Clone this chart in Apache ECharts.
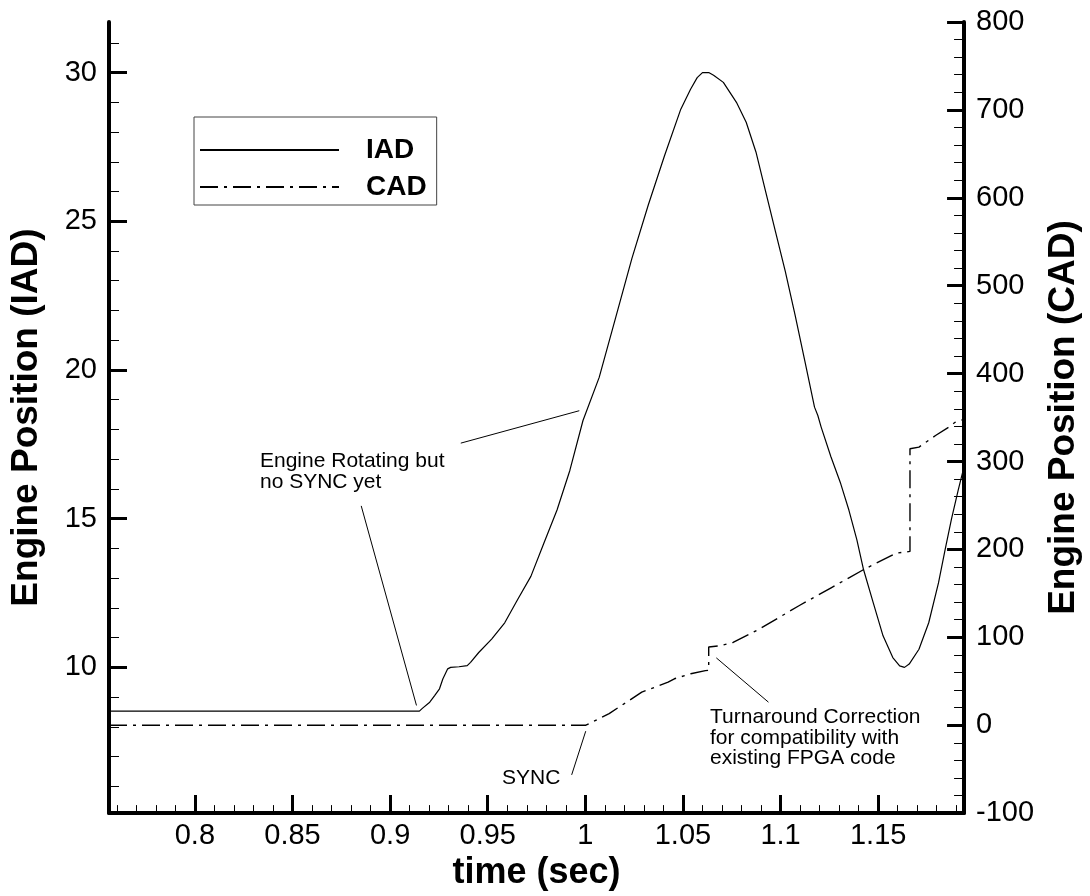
<!DOCTYPE html>
<html>
<head>
<meta charset="utf-8">
<script src="https://cdn.jsdelivr.net/npm/echarts@6/dist/echarts.min.js"></script>
<style>
  html, body { margin: 0; padding: 0; background: #fff; }
  #chart { width: 1090px; height: 896px; }
</style>
</head>
<body>
<div id="chart"></div>
<script>
// Time axis ticks (sec)
const timeTicks = [0.8, 0.85, 0.9, 0.95, 1, 1.05, 1.1, 1.15];
const timeMinorTicks = [0.76, 0.77, 0.78, 0.79, 0.81, 0.82, 0.83, 0.84, 0.86, 0.87, 0.88, 0.89,
  0.91, 0.92, 0.93, 0.94, 0.96, 0.97, 0.98, 0.99, 1.01, 1.02, 1.03, 1.04, 1.06, 1.07, 1.08, 1.09,
  1.11, 1.12, 1.13, 1.14, 1.16, 1.17, 1.18, 1.19];

// Engine position (IAD) ticks
const iadTicks = [10, 15, 20, 25, 30];
const iadMinorTicks = [6, 7, 8, 9, 11, 12, 13, 14, 16, 17, 18, 19, 21, 22, 23, 24, 26, 27, 28, 29, 31];

// IAD trace
const iadTime = [0.756, 0.915, 0.9165, 0.9203, 0.9228, 0.9253, 0.927, 0.9295, 0.931, 0.9353, 0.9395,
  0.9412, 0.9454, 0.952, 0.9587, 0.9654, 0.9721, 0.9788, 0.9855, 0.9921, 0.9988, 1.0071, 1.0155,
  1.0239, 1.0322, 1.0406, 1.0489, 1.0539, 1.0573, 1.0600, 1.0632, 1.0657, 1.0707, 1.0774, 1.0824,
  1.0874, 1.0924, 1.0974, 1.1024, 1.1074, 1.1124, 1.1174, 1.1191, 1.1208, 1.1258, 1.1308, 1.135,
  1.1391, 1.1425, 1.1475, 1.1525, 1.1575, 1.161, 1.1635, 1.1659, 1.1709, 1.1759, 1.1809, 1.1843,
  1.1876, 1.191, 1.194];
const iadValue = [8.53, 8.53, 8.62, 8.83, 9.05, 9.28, 9.61, 9.95, 10.0, 10.02, 10.06,
  10.17, 10.5, 10.95, 11.5, 12.29, 13.06, 14.18, 15.29, 16.63, 18.3, 19.75, 21.75,
  23.76, 25.54, 27.21, 28.77, 29.44, 29.83, 30.0, 30.0, 29.91, 29.67, 29.0, 28.33,
  27.33, 25.99, 24.65, 23.32, 21.86, 20.31, 18.75, 18.47, 18.08, 17.08, 16.18, 15.29,
  14.29, 13.29, 12.17, 11.06, 10.33, 10.05, 10.0, 10.11, 10.61, 11.5, 12.84, 13.96,
  15.0, 15.96, 16.75];

// CAD trace
const cadTime = [0.756, 1.0003, 1.0122, 1.0289, 1.0424, 1.0456, 1.054, 1.0615, 1.0632, 1.0632,
  1.069, 1.0757, 1.0891, 1.1092, 1.1259, 1.1426, 1.1593, 1.1663, 1.1663, 1.1709, 1.1794, 1.1861,
  1.1894, 1.194];
const cadValue = [0, 0, 13.2, 37.6, 48.9, 52.8, 58.5, 62.1, 62.5, 89.0,
  90.4, 94.1, 109.3, 135.6, 156.3, 177.1, 195.8, 197.7, 314.5, 316.4, 329.6, 339.0,
  344.6, 348.0];

// Leader lines for the notes: [time, position]
const rotatingLeaderUpper = [[0.9362, 17.54], [0.9969, 18.63]];   // IAD scale
const rotatingLeaderLower = [[0.8852, 15.43], [0.9135, 8.72]];    // IAD scale
const syncLeader = [[0.9930, -56.5], [1.0002, -6.8]];             // CAD scale
const turnaroundLeader = [[1.0671, 76.6], [1.0938, 26.2]];        // CAD scale

const FONT = '"Liberation Sans", Arial, Helvetica, sans-serif';

function pairs(xs, ys) { return xs.map((x, i) => [x, ys[i]]); }
function fmt(v) { return String(+Number(v).toFixed(4)); }

const chart = echarts.init(document.getElementById('chart'), null, { renderer: 'canvas' });

const axisLineStyle = { color: '#000', width: 4 };
const majorTickStyle = { color: '#000', width: 3 };
const minorTickStyle = { color: '#000', width: 1 };
const labelStyle = { color: '#000', fontSize: 29, fontFamily: FONT };
const titleStyle = { color: '#000', fontSize: 37, fontWeight: 'bold', fontFamily: FONT };

function leaderSeries(name, pts, yIndex) {
  return {
    name: name, type: 'line', xAxisIndex: 0, yAxisIndex: yIndex,
    data: pts, symbol: 'none', silent: true, animation: false,
    lineStyle: { color: '#000', width: 1 }, z: 1
  };
}

chart.setOption({
  backgroundColor: '#fff',
  animation: false,
  grid: { left: 109, right: 107.5, top: 22, bottom: 77.5 },
  legend: {
    data: ['IAD', 'CAD'],
    orient: 'vertical',
    left: 194, top: 117,
    padding: [19, 10, 4, 5],
    itemWidth: 139, itemHeight: 14, itemGap: 9,
    borderColor: '#444', borderWidth: 1,
    selectedMode: false,
    itemStyle: { opacity: 0 },
    textStyle: { color: '#000', fontSize: 28, fontWeight: 'bold', fontFamily: FONT,
      lineHeight: 28, padding: [0, 0, 0, 22] }
  },
  xAxis: [
    {
      type: 'value', min: 0.756, max: 1.194, position: 'bottom',
      name: 'time (sec)', nameLocation: 'middle', nameGap: 39,
      nameTextStyle: Object.assign({}, titleStyle, { fontSize: 36 }),
      axisLine: { show: true, onZero: false, lineStyle: axisLineStyle },
      axisTick: { show: true, inside: true, length: 18, customValues: timeTicks, lineStyle: majorTickStyle },
      axisLabel: { show: true, margin: 8, customValues: timeTicks, formatter: fmt, ...labelStyle },
      splitLine: { show: false }
    },
    {
      type: 'value', min: 0.756, max: 1.194, position: 'bottom',
      axisLine: { show: false, onZero: false },
      axisTick: { show: true, inside: true, length: 8, customValues: timeMinorTicks, lineStyle: minorTickStyle },
      axisLabel: { show: false },
      splitLine: { show: false }
    }
  ],
  yAxis: [
    {
      type: 'value', min: 5.1, max: 31.7, position: 'left',
      name: 'Engine Position (IAD)', nameLocation: 'middle', nameGap: 64, nameRotate: 90,
      nameTextStyle: titleStyle,
      axisLine: { show: true, onZero: false, lineStyle: axisLineStyle },
      axisTick: { show: true, inside: true, length: 18, customValues: iadTicks, lineStyle: majorTickStyle },
      axisLabel: { show: true, margin: 12, customValues: iadTicks, formatter: fmt, ...labelStyle },
      splitLine: { show: false }
    },
    {
      type: 'value', min: -100, max: 800, interval: 100, position: 'right',
      name: 'Engine Position (CAD)', nameLocation: 'middle', nameGap: 65.5, nameRotate: 90,
      nameTextStyle: titleStyle,
      axisLine: { show: true, onZero: false, lineStyle: axisLineStyle },
      axisTick: { show: true, inside: true, length: 17, lineStyle: majorTickStyle },
      minorTick: { show: true, splitNumber: 5, length: 10, lineStyle: minorTickStyle },
      axisLabel: { show: true, margin: 12, formatter: fmt, ...labelStyle },
      splitLine: { show: false }
    },
    {
      type: 'value', min: 5.1, max: 31.7, position: 'left',
      axisLine: { show: false, onZero: false },
      axisTick: { show: true, inside: true, length: 10, customValues: iadMinorTicks, lineStyle: minorTickStyle },
      axisLabel: { show: false },
      splitLine: { show: false }
    }
  ],
  series: [
    {
      name: 'IAD', type: 'line', xAxisIndex: 0, yAxisIndex: 0,
      data: pairs(iadTime, iadValue), symbol: 'none',
      lineStyle: { color: '#000', width: 1.2 }, itemStyle: { color: '#000' }, z: 3
    },
    {
      name: 'CAD', type: 'line', xAxisIndex: 0, yAxisIndex: 1,
      data: pairs(cadTime, cadValue), symbol: 'none',
      lineStyle: { color: '#000', width: 1.4, type: [18, 6, 3, 6] }, itemStyle: { color: '#000' }, z: 3
    },
    leaderSeries('rotatingUpper', rotatingLeaderUpper, 0),
    leaderSeries('rotatingLower', rotatingLeaderLower, 0),
    leaderSeries('sync', syncLeader, 1),
    leaderSeries('turnaround', turnaroundLeader, 1)
  ],
  graphic: [
    { type: 'text', x: 260, y: 451, silent: true,
      style: { text: 'Engine Rotating but\nno SYNC yet', fill: '#000', fontSize: 21, fontFamily: FONT,
        lineHeight: 21, verticalAlign: 'top', align: 'left' } },
    { type: 'text', x: 502, y: 768, silent: true,
      style: { text: 'SYNC', fill: '#000', fontSize: 21, fontFamily: FONT,
        lineHeight: 21, verticalAlign: 'top', align: 'left' } },
    { type: 'text', x: 710, y: 707, silent: true,
      style: { text: 'Turnaround Correction\nfor compatibility with\nexisting FPGA code', fill: '#000',
        fontSize: 21, fontFamily: FONT, lineHeight: 20.5, verticalAlign: 'top', align: 'left' } }
  ]
});
</script>
</body>
</html>
